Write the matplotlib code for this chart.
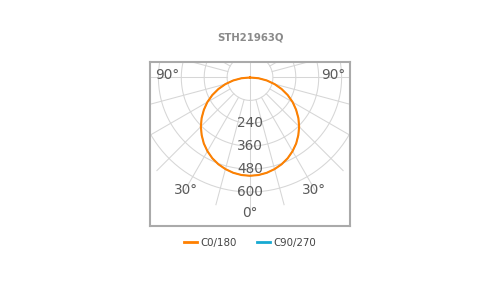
import numpy as np
import matplotlib
matplotlib.use("Agg")
import matplotlib.pyplot as plt
from matplotlib.lines import Line2D

title = "STH21963Q"
series_names = ["C0/180", "C90/270"]
series_colors = ["#ff8000", "#16a9d2"]

# gamma angles (deg, 0 = straight down) and luminous intensity (cd)
gamma = [-90, -85, -80, -75, -70, -65, -60, -55, -50, -45, -40, -35, -30, -25, -20, -15, -10, -5,
         0, 5, 10, 15, 20, 25, 30, 35, 40, 45, 50, 55, 60, 65, 70, 75, 80, 85, 90]
c0_180 = [0, 45, 89, 133, 176, 218, 258, 295, 331, 364, 394, 422, 446, 467, 484, 497, 507, 513,
          515, 513, 507, 497, 484, 467, 446, 422, 394, 364, 331, 295, 258, 218, 176, 133, 89, 45, 0]
c90_270 = [0, 45, 89, 133, 176, 218, 258, 295, 331, 364, 394, 422, 446, 467, 484, 497, 507, 513,
           515, 513, 507, 497, 484, 467, 446, 422, 394, 364, 331, 295, 258, 218, 176, 133, 89, 45, 0]

ring_values = [120, 240, 360, 480, 600]
ring_labels = ["240", "360", "480", "600"]
angle_labels = ["0°", "30°", "30°", "90°", "90°"]

FONT = ["DejaVu Sans"]
plt.rcParams['font.family'] = FONT

fig = plt.figure(figsize=(5, 3), dpi=100)
ax = fig.add_axes([0.3, (300 - 226) / 300, 0.4, 164 / 300])
ax.set_xlim(-524, 524)
ax.set_ylim(-778, 81)
ax.set_aspect('equal', adjustable='box')
ax.set_xticks([])
ax.set_yticks([])
for sp in ax.spines.values():
    sp.set_color("#aaaaaa")
    sp.set_linewidth(1.5)

grid_c = "#d6d6d6"
grid_lw = 0.75
t = np.linspace(0, 2 * np.pi, 361)
for r in ring_values:
    ax.plot(r * np.sin(t), -r * np.cos(t), color=grid_c, lw=grid_lw, zorder=1)

r_end = 690
for a in range(0, 360, 15):
    ar = np.deg2rad(a)
    r0 = 0 if a in (0, 180) else ring_values[0]
    ax.plot([r0 * np.sin(ar), r_end * np.sin(ar)], [-r0 * np.cos(ar), -r_end * np.cos(ar)],
            color=grid_c, lw=grid_lw, zorder=1)

g = np.deg2rad(np.array(gamma))
for vals, col, z, lw in [(c90_270, series_colors[1], 3, 0.8), (c0_180, series_colors[0], 4, 1.5)]:
    v = np.array(vals, dtype=float)
    ax.plot(v * np.sin(g), -v * np.cos(g), color=col, lw=lw, zorder=z)

lab_c = "#5a5a5a"
fs = 9.8
for r, lab in zip(ring_values[1:], ring_labels):
    ax.text(0, -r, lab, ha='center', va='center', fontsize=fs, color=lab_c, zorder=5)

ax.text(0, -710, angle_labels[0], ha='center', va='center', fontsize=fs, color=lab_c, zorder=5)
ax.text(-335, -590, angle_labels[1], ha='center', va='center', fontsize=fs, color=lab_c, zorder=5)
ax.text(335, -590, angle_labels[2], ha='center', va='center', fontsize=fs, color=lab_c, zorder=5)
ax.text(-435, 13, angle_labels[3], ha='center', va='center', fontsize=fs, color=lab_c, zorder=5)
ax.text(435, 13, angle_labels[4], ha='center', va='center', fontsize=fs, color=lab_c, zorder=5)

fig.text(0.5, 1 - 37 / 300, title, ha='center', va='center', fontsize=7.3, fontweight='bold',
         color="#8a8a8a")

handles = [Line2D([0], [0], color=c, lw=2) for c in series_colors]
leg = fig.legend(handles, series_names, loc='center', bbox_to_anchor=(0.5, 1 - 243 / 300),
                 ncol=2, frameon=False, fontsize=7.4, handlelength=1.3, handletextpad=0.35,
                 columnspacing=1.9)
for txt in leg.get_texts():
    txt.set_color("#444444")

fig.savefig("out.png", dpi=100)
